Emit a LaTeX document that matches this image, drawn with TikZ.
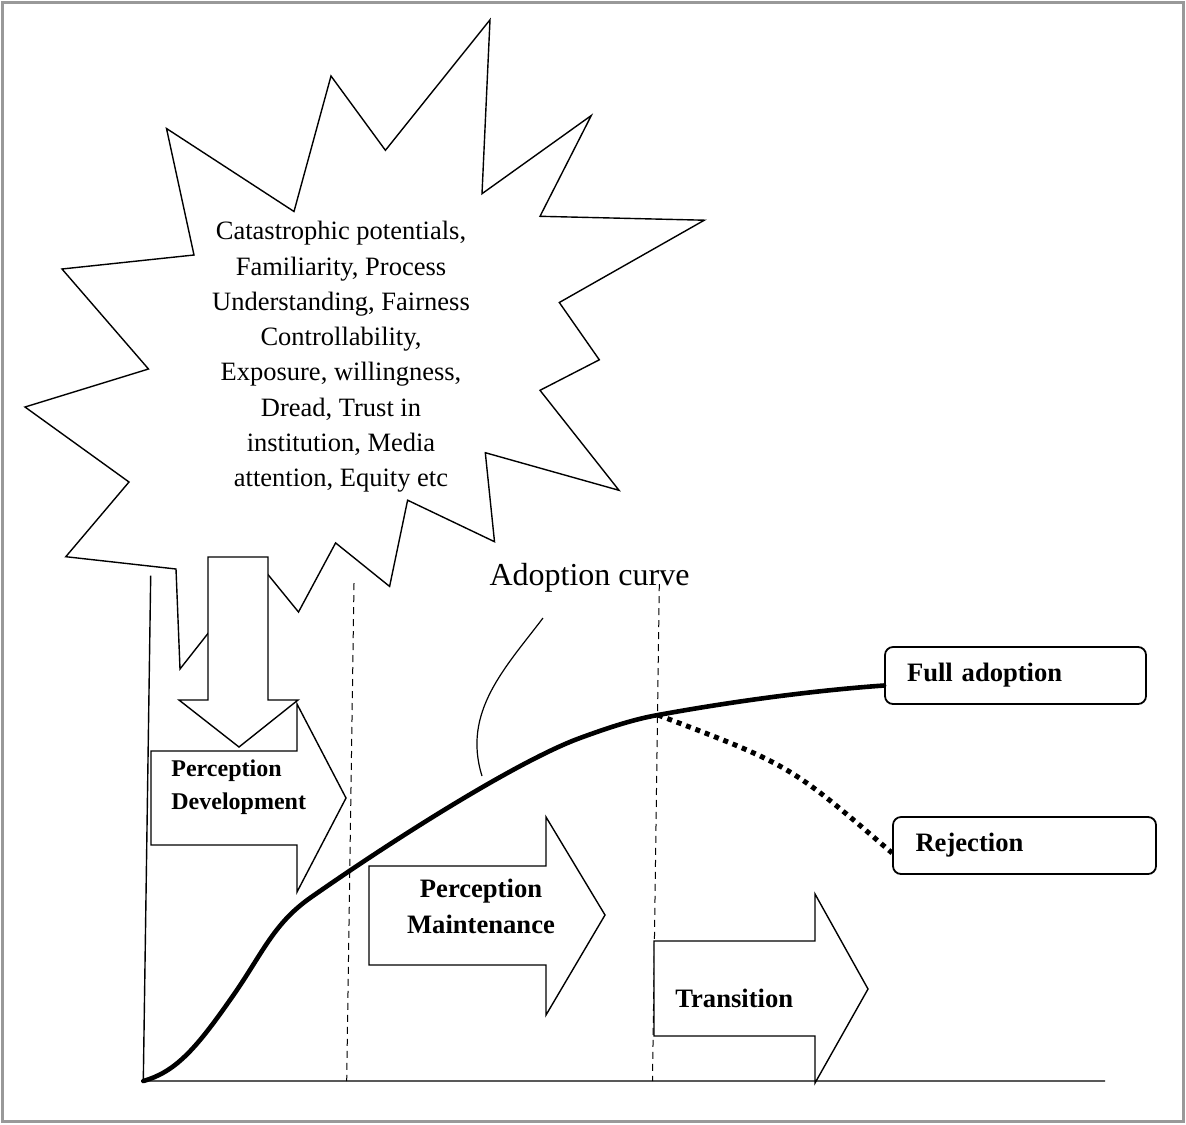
\documentclass[tikz,border=0pt]{standalone}
\usepackage{fontspec}
\setmainfont{Liberation Serif}
\usetikzlibrary{calc}

\tikzset{
  blockarrow/.style={draw=black, fill=white, line width=0.7pt, line join=miter},
  burst/.style={draw=black, fill=white, line width=0.7pt, line join=miter},
  axisline/.style={draw=black, line width=0.7pt},
  phasedivider/.style={draw=black, line width=0.5pt, dash pattern=on 3.5pt off 2.5pt},
  adoptioncurve/.style={draw=black, line width=2.3pt, line cap=round, line join=round},
  rejectcurve/.style={draw=black, line width=2.5pt, dash pattern=on 2.5pt off 2.5pt},
  pointer/.style={draw=black, line width=0.6pt},
  phasetext/.style={font=\fontsize{13.3}{17.9}\selectfont\bfseries, inner sep=0pt},
  outcomebox/.style={draw=black, line width=0.9pt, rounded corners=4pt, minimum height=28.5pt,
    font=\fontsize{13.3}{16}\selectfont\bfseries, align=left, inner xsep=11pt},
}

\begin{document}
\begin{tikzpicture}[x=0.5pt, y=-0.5pt]

\useasboundingbox (0,0) rectangle (1186,1124);
\draw [black!40, line width=1.5pt] (2,2) rectangle (1183,1121);

% factors burst
\draw [burst] (129,482) -- (25,407) -- (148.5,369) -- (62,269) -- (194,255) -- (166.5,128.5)
  -- (294,211.5) -- (331,76) -- (385.4,150.3) -- (490,19.8) -- (482,193.7) -- (591.3,115.5)
  -- (540,216.3) -- (704.3,220.2) -- (559.3,302.5) -- (599.3,359.8) -- (540,390.3) -- (619,490.3)
  -- (485.3,452.7) -- (494.5,541.7) -- (407.6,500.2) -- (389.6,586.4) -- (335.6,542.9) -- (298.5,612)
  -- (261,566) -- (180,669) -- (176,569) -- (65.8,556.7) -- cycle;
\node [align=center, inner sep=0pt, font=\fontsize{13.25}{17.65}\selectfont] (burst-text) at (341,357)
  {Catastrophic potentials,\\ Familiarity, Process\\ Understanding, Fairness\\ Controllability,\\
   Exposure, willingness,\\ Dread, Trust in\\ institution, Media\\ attention, Equity etc};

% down arrow out of the burst
\draw [blockarrow] (208,557) -- (268,557) -- (268,700) -- (298,700) -- (239,747) -- (179,700) -- (208,700) -- cycle;

% axes
\coordinate (origin) at (143.3,1081);
\coordinate (y-top) at (150.7,575.7);
\coordinate (x-end) at (1105,1081);
\draw [axisline] (y-top) -- (origin) -- (x-end);

% phase dividers
\draw [phasedivider] (354,583) -- (346.7,1081);
\draw [phasedivider] (659.3,584) -- (652.5,1081);

% phase arrows
\draw [blockarrow] (151,751) -- (297,751) -- (297,704) -- (346,798) -- (297,892) -- (297,845) -- (151,845) -- cycle;
\node [phasetext, font=\fontsize{12}{16.3}\selectfont\bfseries, align=left, anchor=west] (dev-text) at (171,787)
  {Perception\\ Development};

\draw [blockarrow] (369,866) -- (546,866) -- (546,817) -- (605,915) -- (546,1015) -- (546,965) -- (369,965) -- cycle;
\node [phasetext, align=center] (main-text) at (481,906) {Perception\\ Maintenance};

\draw [blockarrow] (654,941) -- (815,941) -- (815,894) -- (868,989) -- (815,1083) -- (815,1036) -- (654,1036) -- cycle;
\node [phasetext, anchor=west] (trans-text) at (675,998) {Transition};

% outcomes
\node [outcomebox, text width=108.5pt] (full-adoption) at (1015.5,675.5) {Full adoption};
\node [outcomebox, text width=109pt, inner xsep=11.25pt] (rejection) at (1024.5,845.5) {Rejection};

% adoption curve
\coordinate (split) at (658,715);
\draw [adoptioncurve] (origin) .. controls (175,1072) and (195,1050) .. (230,1000)
  .. controls (262,955) and (272,925) .. (310,898)
  .. controls (400,835) and (520,760) .. (580,738)
  .. controls (610,727) and (635,719) .. (split)
  .. controls (740,700) and (820,690) .. ([yshift=-5pt]full-adoption.west);
\draw [rejectcurve] (split) .. controls (790,765) .. ([yshift=-3.75pt]rejection.west);

% label of the curve
\node [inner sep=0pt, font=\fontsize{16}{19}\selectfont] (adoption-label) at (589.5,578) {Adoption curve};
\coordinate (pointer-start) at (543,618);
\coordinate (pointer-end) at (482,776);
\draw [pointer] (pointer-start) .. controls (505,668) and (462,712) .. (pointer-end);

\end{tikzpicture}
\end{document}
